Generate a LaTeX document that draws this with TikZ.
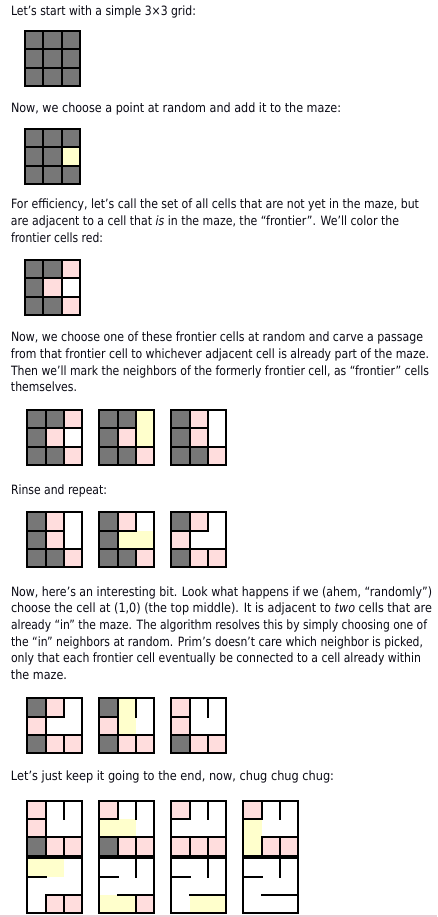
\documentclass[tikz,border=0pt]{standalone}
\usepackage{fontspec}
\setmainfont{DejaVu Sans}
\usepackage{graphicx}
\definecolor{cg}{HTML}{777777}
\definecolor{cp}{HTML}{FFDDDD}
\definecolor{cy}{HTML}{FFFFCC}
\definecolor{cw}{HTML}{FFFFFF}
\definecolor{txt}{HTML}{0A0A14}
\definecolor{rulepink}{HTML}{EBCFD7}
\tikzset{wall/.style={draw=black, line width=2pt, line cap=rect}}
\def\mzs{18.333}
\def\VA{0/0,1/0,0/1,1/1,0/2,1/2}
\def\HA{0/0,1/0,2/0,0/1,1/1,2/1}
\newcommand\mz[6]{%
\edef\mzc{#4}\edef\mzv{#5}\edef\mzh{#6}%
\begin{scope}[shift={(#2,#3)}]
 \foreach \c [count=\i from 0] in \mzc {
   \pgfmathtruncatemacro\cx{mod(\i,3)}
   \pgfmathtruncatemacro\cy{div(\i,3)}
   \fill[\c] ({\cx*\mzs},{\cy*\mzs}) rectangle ++(\mzs,\mzs);
 }
 \foreach \a/\b in \mzv \draw[wall] ({(\a+1)*\mzs},{\b*\mzs}) -- ++(0,\mzs);
 \foreach \a/\b in \mzh \draw[wall] ({\a*\mzs},{(\b+1)*\mzs}) -- ++(\mzs,0);
 \node[wall, minimum size=55pt, inner sep=0pt, outer sep=0pt, anchor=north west] (#1) at (0,0) {};
\end{scope}}
\newsavebox\tlbox
\newcommand\fitw[2]{%
 \fontsize{12.8}{15}\selectfont
 \sbox\tlbox{#2}%
 \pgfmathsetmacro\tlr{#1/\the\wd\tlbox}%
 \scalebox{\tlr}[1]{\usebox\tlbox}}
\newcommand\tl[4]{%
 \node[anchor=base west, inner sep=0pt, outer sep=0pt, text=txt] (#1) at (11,#2) {\fitw{#3}{#4}};}
\begin{document}
\begin{tikzpicture}[x=1pt,y=-1pt]
\useasboundingbox (0,0) rectangle (437,917);
\fill[white] (0,0) rectangle (437,917);
% texts
\tl{t1}{15.5}{185}{Let’s start with a simple 3×3 grid:}
\tl{t2}{113}{330}{Now, we choose a point at random and add it to the maze:}
\tl{t3}{209}{408}{For efficiency, let’s call the set of all cells that are not yet in the maze, but}
\tl{t4}{225.7}{388}{are adjacent to a cell that \textit{is} in the maze, the “frontier”. We’ll color the}
\tl{t5}{242.3}{92}{frontier cells red:}
\tl{t6}{341.7}{412}{Now, we choose one of these frontier cells at random and carve a passage}
\tl{t7}{358.3}{418}{from that frontier cell to whichever adjacent cell is already part of the maze.}
\tl{t8}{375}{418}{Then we’ll mark the neighbors of the formerly frontier cell, as “frontier” cells}
\tl{t9}{391.7}{66}{themselves.}
\tl{t10}{494}{96}{Rinse and repeat:}
\tl{t11}{596}{421}{Now, here’s an interesting bit. Look what happens if we (ahem, “randomly”)}
\tl{t12}{612.7}{421}{choose the cell at (1,0) (the top middle). It is adjacent to \textit{two} cells that are}
\tl{t13}{629.3}{416}{already “in” the maze. The algorithm resolves this by simply choosing one of}
\tl{t14}{646}{412}{the “in” neighbors at random. Prim’s doesn’t care which neighbor is picked,}
\tl{t15}{662.7}{410}{only that each frontier cell eventually be connected to a cell already within}
\tl{t16}{679.3}{56}{the maze.}
\tl{t17}{780}{323}{Let’s just keep it going to the end, now, chug chug chug:}
% grids
\mz{g1}{25}{31}{cg,cg,cg,cg,cg,cg,cg,cg,cg}{\VA}{\HA}
\mz{g2}{25}{129}{cg,cg,cg,cg,cg,cy,cg,cg,cg}{\VA}{\HA}
\mz{g3}{25}{260}{cg,cg,cp,cg,cp,cw,cg,cg,cp}{\VA}{\HA}
\mz{ga}{27.3}{410}{cg,cg,cp,cg,cp,cw,cg,cg,cp}{\VA}{\HA}
\mz{gb}{99.3}{410}{cg,cg,cy,cg,cp,cy,cg,cg,cp}{\VA}{0/0,1/0,0/1,1/1,2/1}
\mz{gc}{171.3}{410}{cg,cp,cw,cg,cp,cw,cg,cg,cp}{\VA}{0/0,1/0,0/1,1/1,2/1}
\mz{gd}{27.3}{512.3}{cg,cp,cw,cg,cp,cw,cg,cg,cp}{\VA}{0/0,1/0,0/1,1/1,2/1}
\mz{ge}{99.3}{512.3}{cg,cp,cw,cg,cy,cy,cg,cg,cp}{0/0,1/0,0/1,0/2,1/2}{0/0,1/0,0/1,1/1,2/1}
\mz{gf}{171.3}{512.3}{cg,cp,cw,cp,cw,cw,cg,cp,cp}{0/0,1/0,0/1,0/2,1/2}{0/0,1/0,0/1,1/1,2/1}
\mz{gg}{27.3}{698.3}{cg,cp,cw,cp,cw,cw,cg,cp,cp}{0/0,1/0,0/1,0/2,1/2}{0/0,1/0,0/1,1/1,2/1}
\mz{gh}{99.3}{698.3}{cg,cy,cw,cp,cy,cw,cg,cp,cp}{0/0,1/0,0/1,0/2,1/2}{0/0,0/1,1/1,2/1}
\mz{gi}{171.3}{698.3}{cp,cw,cw,cp,cw,cw,cg,cp,cp}{0/0,1/0,0/1,0/2,1/2}{0/0,0/1,1/1,2/1}
\mz{gj}{27.3}{800.7}{cp,cw,cw,cp,cw,cw,cg,cp,cp}{0/0,1/0,0/1,0/2,1/2}{0/0,0/1,1/1,2/1}
\mz{gk}{99.3}{800.7}{cp,cw,cw,cy,cy,cw,cg,cp,cp}{0/0,1/0,0/2,1/2}{0/0,0/1,1/1,2/1}
\mz{gl}{171.3}{800.7}{cp,cw,cw,cw,cw,cw,cp,cp,cp}{0/0,1/0,0/2,1/2}{0/0,0/1,1/1,2/1}
\mz{gm}{243.3}{800.7}{cp,cw,cw,cy,cw,cw,cy,cp,cp}{0/0,1/0,0/2,1/2}{0/0,1/1,2/1}
\mz{gn}{27.3}{858.3}{cy,cy,cw,cw,cw,cw,cw,cp,cp}{0/2,1/2}{0/0,1/1,2/1}
\mz{go}{99.3}{858.3}{cw,cw,cw,cw,cw,cw,cy,cy,cp}{1/0,1/2}{0/0,1/1,2/1}
\mz{gp}{171.3}{858.3}{cw,cw,cw,cw,cw,cw,cw,cy,cy}{1/0}{0/0,1/1,2/1}
\mz{gq}{243.3}{858.3}{cw,cw,cw,cw,cw,cw,cw,cw,cw}{1/0}{0/0,1/1,2/1}
% bottom rule
\draw[rulepink, line width=1.5pt] (0,916.2) -- (437,916.2);
\end{tikzpicture}
\end{document}
